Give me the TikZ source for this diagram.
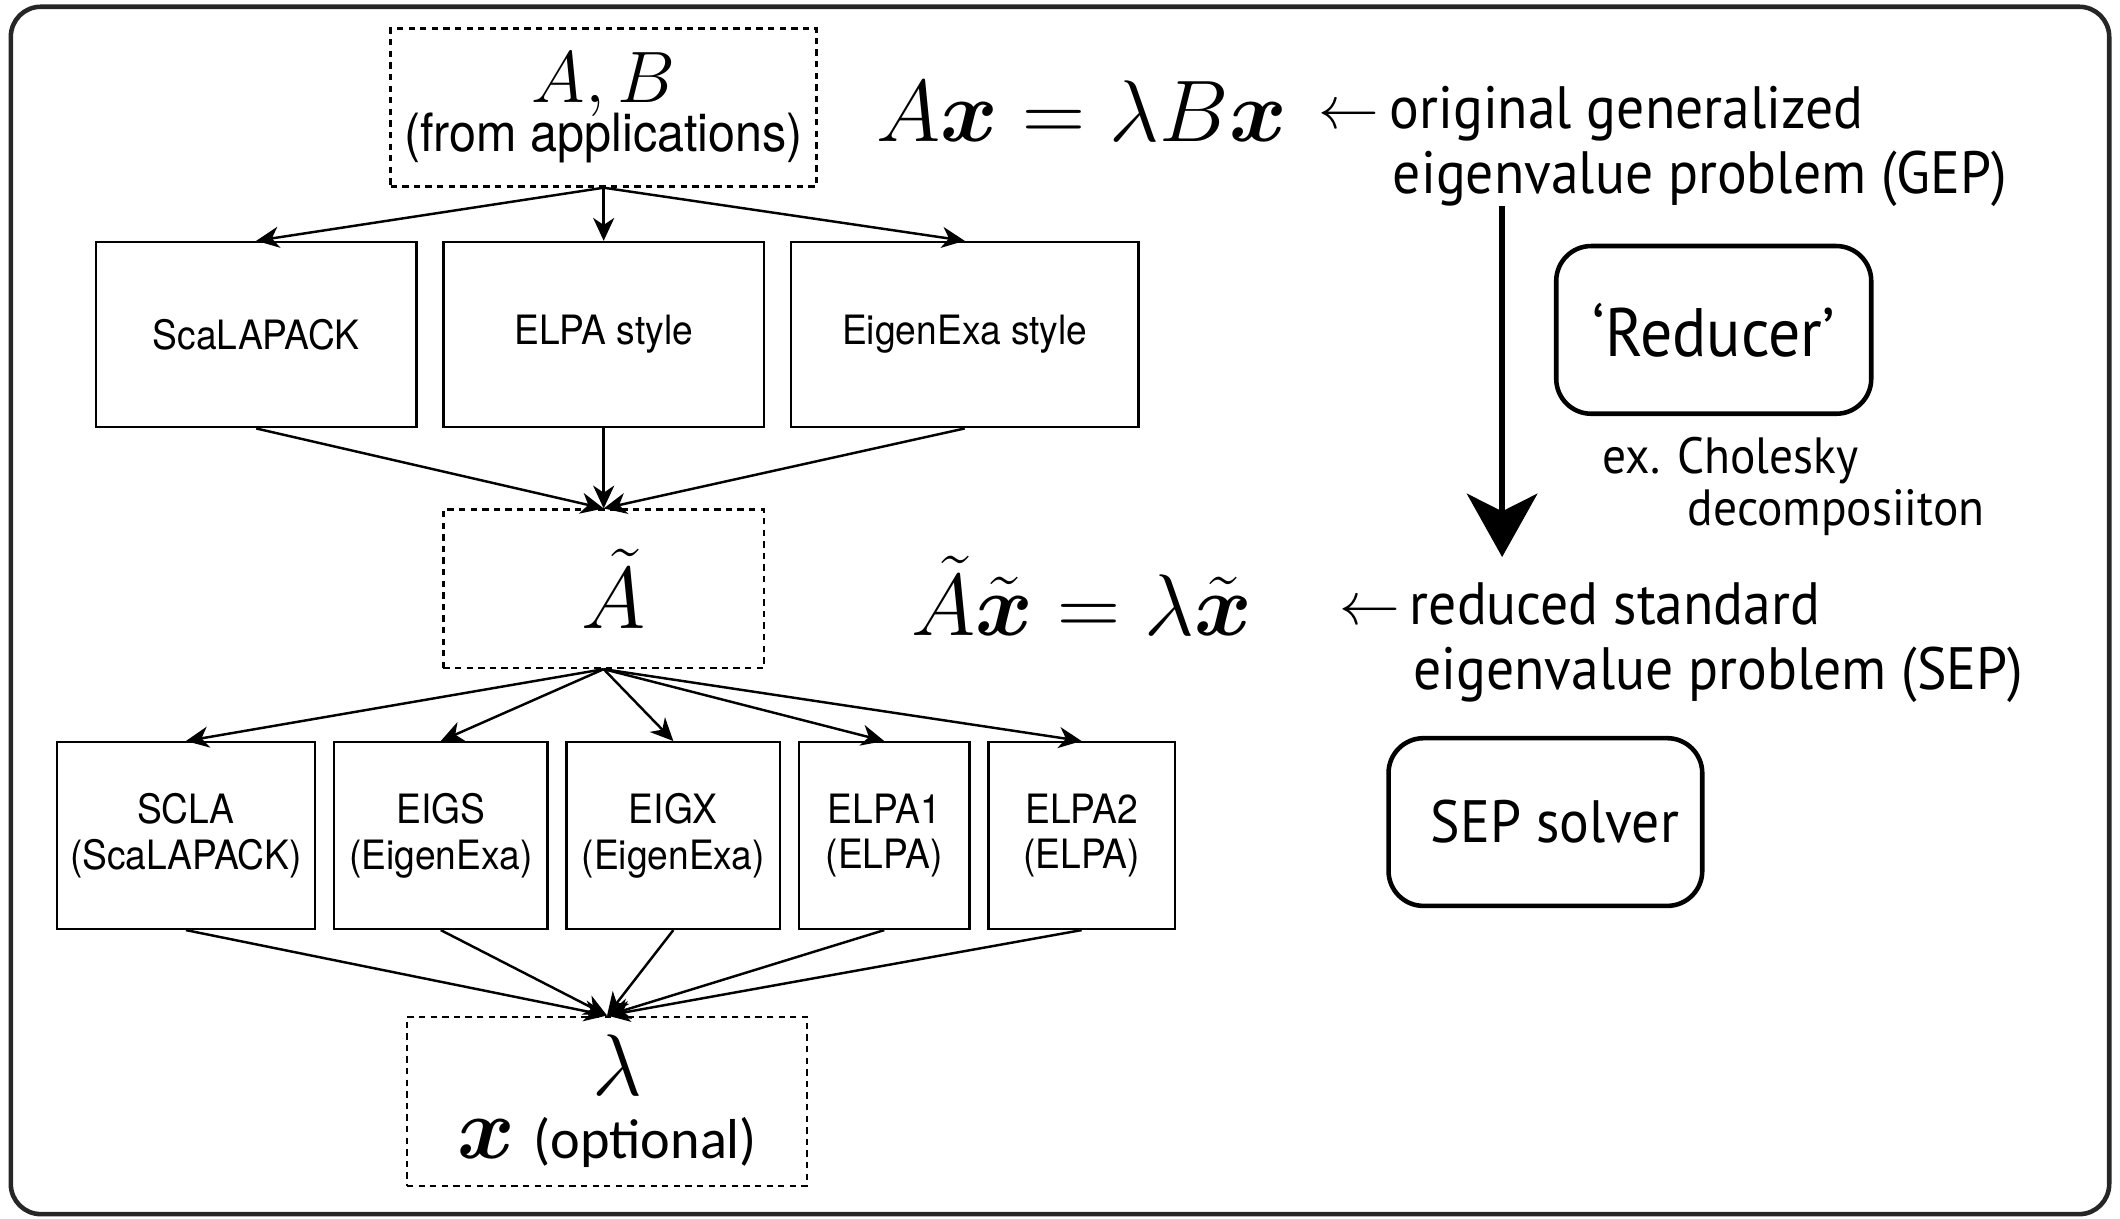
\documentclass[tikz,border=0pt]{standalone}
\usepackage{amsmath}
\usepackage{amssymb}
\usepackage{fontspec}
\usetikzlibrary{arrows.meta}
\newfontfamily\helv[FakeStretch=0.92]{TeX Gyre Heros}
\newfontfamily\myr[FakeStretch=0.93]{PT Sans}
\newfontfamily\cali{Carlito}
\setlength{\lineskiplimit}{-20pt}

\begin{document}
\begin{tikzpicture}[x=0.01352cm, y=-0.01352cm,
    box/.style={draw, line width=0.7pt, align=center, inner sep=0pt,
      font=\helv\fontsize{11.5}{13}\selectfont},
    dbox/.style={draw, dash pattern=on 1.8pt off 1.5pt, line width=0.7pt,
      align=center, inner sep=0pt},
    rbox/.style={draw, line width=1.3pt, rounded corners=0.35cm, inner sep=0pt,
      font=\myr\fontsize{19.5}{22}\selectfont},
    arr/.style={-{Stealth[length=6.5pt,width=6pt,inset=2pt]}, line width=0.7pt},
    note/.style={anchor=west, align=left, inner sep=0pt,
      font=\myr\fontsize{17}{18.5}\selectfont},
    eq/.style={font=\fontsize{24}{28}\selectfont}]
    \useasboundingbox (0,0) rectangle (1568,901);

    % Frame
    \draw[line width=1.3pt, draw=black!85, rounded corners=0.3cm] (8,5) rectangle (1560,898);

    % Input matrices
    \node[dbox, minimum width=4.26cm, minimum height=1.58cm,
      font=\helv\fontsize{15}{14}\selectfont] (ab) at (446.5,79.5)
      {{\fontsize{20}{20}\selectfont$A,B$}\\(from applications)};

    % Reducers
    \node[box, minimum width=3.204cm, minimum height=1.852cm] (scalapack) at (189.5,247.5) {ScaLAPACK};
    \node[box, minimum width=3.204cm, minimum height=1.852cm] (elpastyle) at (446.5,247.5) {ELPA style};
    \node[box, minimum width=3.475cm, minimum height=1.852cm] (eigenstyle) at (713.5,247.5) {EigenExa style};

    \node[dbox, minimum width=3.204cm, minimum height=1.582cm, font=\fontsize{25}{28}\selectfont]
      (atil) at (446.5,435.5) {\hspace*{0.2cm}$\tilde{A}$};

    % SEP solvers
    \node[box, minimum width=2.582cm, minimum height=1.866cm] (scla) at (137.5,618) {SCLA\\(ScaLAPACK)};
    \node[box, minimum width=2.136cm, minimum height=1.866cm] (eigs) at (326,618) {EIGS\\(EigenExa)};
    \node[box, minimum width=2.136cm, minimum height=1.866cm] (eigx) at (498,618) {EIGX\\(EigenExa)};
    \node[box, minimum width=1.704cm, minimum height=1.866cm] (elpaone) at (654,618) {ELPA1\\(ELPA)};
    \node[box, minimum width=1.866cm, minimum height=1.866cm] (elpatwo) at (800,618) {ELPA2\\(ELPA)};

    \node[dbox, minimum width=4.002cm, minimum height=1.69cm,
      font=\fontsize{32}{18}\selectfont] (lam) at (449,814.5)
      {\hspace*{0.2cm}$\lambda$\\{\fontsize{34}{34}\selectfont$\boldsymbol{x}$}\,{\cali\fontsize{16}{16}\selectfont(optional)}};

    \foreach \n in {scalapack,elpastyle,eigenstyle} {
      \draw[arr] (ab.south) -- (\n.north);
      \draw[arr] (\n.south) -- (atil.north);
    }
    \foreach \n in {scla,eigs,eigx,elpaone,elpatwo} {
      \draw[arr] (atil.south) -- (\n.north);
      \draw[arr] (\n.south) -- (lam.north);
    }

    % Right side
    \node[eq] (gep) at (800,82) {$A\boldsymbol{x} = \lambda B\boldsymbol{x}$};
    \node[note] (geptxt) at (975,108)
      {$\leftarrow$\,original generalized\\\hspace*{0.74cm}eigenvalue problem (GEP)};
    \node[rbox, minimum width=3.15cm, minimum height=1.677cm] (red) at (1267.5,244) {‘Reducer’};
    \node[note, font=\myr\fontsize{14.5}{14.8}\selectfont] (chol) at (1185,360)
      {ex. Cholesky\\\hspace*{0.85cm}decomposiiton};

    \coordinate (rtop) at (1111,152);
    \coordinate (rbot) at (1111,412);
    \draw[-{Stealth[length=18pt,width=20pt,inset=5pt]}, line width=1.8pt] (rtop) -- (rbot);

    \node[eq] (sep) at (800,441) {$\tilde{A}\tilde{\boldsymbol{x}} = \lambda\tilde{\boldsymbol{x}}$};
    \node[note] (septxt) at (990,475)
      {$\leftarrow$\,reduced standard\\\hspace*{0.74cm}eigenvalue problem (SEP)};
    \node[rbox, minimum width=3.137cm, minimum height=1.677cm, font=\myr\fontsize{17}{20}\selectfont]
      (sol) at (1143,608) {\hspace*{0.19cm}SEP solver};
\end{tikzpicture}
\end{document}
